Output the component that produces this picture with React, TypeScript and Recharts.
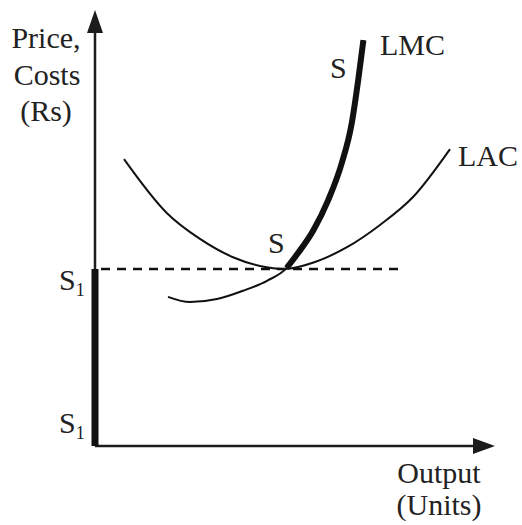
import { ComposedChart, Line, XAxis, YAxis, ReferenceLine, ReferenceDot } from 'recharts'

// Long-run supply of a competitive firm: LAC / LMC curves
const lacX = [7.25, 18, 26.25, 34.5, 41.25, 47.5, 55, 63, 71.25, 79.5, 88.75]
const lacY = [65.8, 53.4, 47.5, 43.3, 41.3, 40.6, 42.2, 45.6, 50.7, 57.1, 68.1]

// whole LMC (thin) and its supply part above min LAC (thick)
const lmcX = [18.25, 23.75, 30.5, 37, 43, 47.9, 50.8, 54.6, 58.3, 61.7, 64.2, 65.8, 67.1]
const lmcY = [34.2, 33.0, 33.7, 35.6, 37.9, 40.8, 44.3, 49.5, 56.4, 64.9, 74.1, 83.9, 93.1]
const supplyFrom = 5

const s1Level = 40.6
const dashEnd = 77

const lacData = lacX.map((x, i) => ({ x, y: lacY[i] }))
const lmcData = lmcX.map((x, i) => ({ x, y: lmcY[i] }))
const supplyData = lmcData.slice(supplyFrom)

const INK = '#111'
const AXIS = '#1c1c1c'
const FONT = '"Liberation Serif", "DejaVu Serif", serif'

function ArrowUp(props: any) {
  const { cx, cy } = props
  return <path d={`M${cx},${cy} L${cx - 8},${cy + 23} L${cx + 8},${cy + 23} Z`} fill={AXIS} />
}

function ArrowRight(props: any) {
  const { cx, cy } = props
  return <path d={`M${cx},${cy} L${cx - 22},${cy - 8} L${cx - 22},${cy + 8} Z`} fill={AXIS} />
}

export default function App() {
  const txt = { fontFamily: FONT, fontSize: 30, fill: '#222' }
  return (
    <div style={{ position: 'absolute', left: 0, top: 0, width: 522, height: 525, background: '#fff' }}>
      <ComposedChart width={522} height={525} margin={{ top: 10, right: 27, bottom: 79, left: 95 }}>
        <XAxis type="number" dataKey="x" domain={[0, 100]} allowDataOverflow hide />
        <YAxis type="number" dataKey="y" domain={[0, 100]} allowDataOverflow hide />
        {/* axes */}
        <ReferenceLine segment={[{ x: 0, y: 0 }, { x: 0, y: 96 }]} stroke={AXIS} strokeWidth={2.5} />
        <ReferenceLine segment={[{ x: 0, y: 0 }, { x: 96, y: 0 }]} stroke={AXIS} strokeWidth={2.5} />
        <ReferenceLine
          segment={[{ x: 1.5, y: s1Level }, { x: dashEnd, y: s1Level }]}
          stroke={INK} strokeWidth={2.4} strokeDasharray="9 7"
        />
        <ReferenceLine
          segment={[{ x: 0, y: 0 }, { x: 0, y: s1Level }]}
          stroke={INK} strokeWidth={7}
        />
        <Line data={lacData} dataKey="y" type="monotone" stroke={INK} strokeWidth={2} dot={false} isAnimationActive={false} />
        <Line data={lmcData} dataKey="y" type="monotone" stroke={INK} strokeWidth={2} dot={false} isAnimationActive={false} />
        <Line data={supplyData} dataKey="y" type="monotone" stroke={INK} strokeWidth={6} dot={false} isAnimationActive={false} />
        <ReferenceDot x={0} y={100} r={0} shape={<ArrowUp />} />
        <ReferenceDot x={100} y={0} r={0} shape={<ArrowRight />} />
      </ComposedChart>
      <svg width={522} height={525} style={{ position: 'absolute', left: 0, top: 0, pointerEvents: 'none' }}>
        <text x={46} y={48} textAnchor="middle" {...txt}>Price,</text>
        <text x={47} y={85} textAnchor="middle" {...txt}>Costs</text>
        <text x={46} y={121} textAnchor="middle" {...txt}>(Rs)</text>
        <text x={380} y={55} {...txt}>LMC</text>
        <text x={330} y={78} {...txt}>S</text>
        <text x={458} y={166} {...txt}>LAC</text>
        <text x={268} y={253} {...txt}>S</text>
        <text x={59} y={290} {...txt}>S<tspan fontSize={18} dy={6}>1</tspan></text>
        <text x={59} y={433} {...txt}>S<tspan fontSize={18} dy={6}>1</tspan></text>
        <text x={439} y={483} textAnchor="middle" {...txt}>Output</text>
        <text x={439} y={515} textAnchor="middle" {...txt}>(Units)</text>
      </svg>
    </div>
  )
}
